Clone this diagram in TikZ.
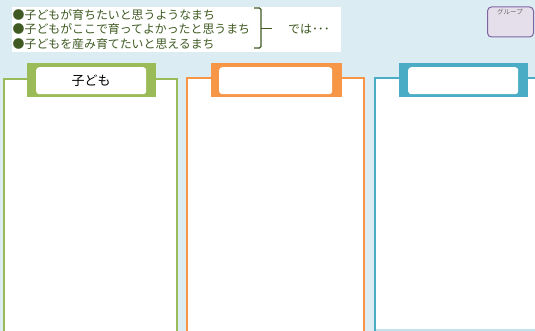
\documentclass[tikz,border=0pt]{standalone}
\usepackage{fontspec}
\newfontfamily\jp{Noto Sans CJK JP}
\definecolor{bg}{HTML}{DBEDF3}
\definecolor{pgreen}{HTML}{9BBB59}
\definecolor{porange}{HTML}{F79646}
\definecolor{pblue}{HTML}{4BACC6}
\definecolor{txtgreen}{HTML}{3F5A22}
\definecolor{grpfill}{HTML}{E5DFEC}
\definecolor{grpdraw}{HTML}{8064A2}
\tikzset{
  line/.style={font=\jp\fontsize{11.9}{14}\selectfont, text=txtgreen, anchor=west, inner sep=0pt},
  panel/.style={draw=#1, line width=2pt, fill=white},
  tab/.style={fill=#1, draw=none},
  tabin/.style={fill=white, draw=none, rounded corners=3pt, inner sep=0pt}
}
\begin{document}
\begin{tikzpicture}[x=1pt,y=-1pt]
\fill[bg] (0,0) rectangle (535,331);
\useasboundingbox (0,0) rectangle (535,331);
% header box
\node[fill=white, minimum width=329pt, minimum height=45pt, inner sep=0pt, anchor=north west] (hdr) at (11.5,7) {};
\node[line] (l1) at (12.5,14.5) {●子どもが育ちたいと思うようなまち};
\node[line] (l2) at (12.5,29) {●子どもがここで育ってよかったと思うまち};
\node[line] (l3) at (12.5,43.5) {●子どもを産み育てたいと思えるまち};
\coordinate (bt) at (261,8);
\coordinate (bb) at (261,48);
\draw[txtgreen, line width=1.2pt, rounded corners=1.5pt] (254,8) -- (bt) -- (bb) -- (254,48);
\coordinate (bm) at (261,28.5);
\coordinate (be) at (272,28.5);
\draw[txtgreen, line width=1.2pt] (bm) -- (be);
\node[line] (deha) at (288,29.5) {では･･･};
% group box
\node[draw=grpdraw, fill=grpfill, line width=1pt, rounded corners=4pt, minimum width=46pt, minimum height=30pt, inner sep=0pt, anchor=north west] (grp) at (487,6.5) {};
\node[font=\jp\fontsize{6.5}{7}\selectfont, text=black!60, inner sep=0pt] (grpt) at (510,12) {グループ};
% panels
\draw[panel=pgreen] (3.5,345) -- (3.5,79) -- (176.5,79) -- (176.5,345);
\draw[panel=porange] (187,345) -- (187,78.5) -- (363.5,78.5) -- (363.5,345);
\draw[panel=pblue] (375,330) -- (375,78.5) -- (545,78.5) -- (545,330) -- cycle;
\draw[pblue!35, line width=1.2pt] (376,330) -- (535,330);
% tabs
\node[tab=pgreen, minimum width=129pt, minimum height=34pt, inner sep=0pt, anchor=north west] (tg) at (27,63) {};
\node[tabin, minimum width=110pt, minimum height=27pt, anchor=north west] (tgi) at (36,67) {};
\node[font=\jp\fontsize{13}{14}\selectfont, inner sep=0pt] (tgt) at (tgi.center) {子ども};
\node[tab=porange, minimum width=131pt, minimum height=34pt, inner sep=0pt, anchor=north west] (to) at (211,63) {};
\node[tabin, minimum width=113pt, minimum height=27pt, anchor=north west] (toi) at (219,67) {};
\node[tab=pblue, minimum width=129pt, minimum height=34pt, inner sep=0pt, anchor=north west] (tb) at (399,63) {};
\node[tabin, minimum width=110pt, minimum height=27pt, anchor=north west] (tbi) at (408,67) {};
\end{tikzpicture}
\end{document}
